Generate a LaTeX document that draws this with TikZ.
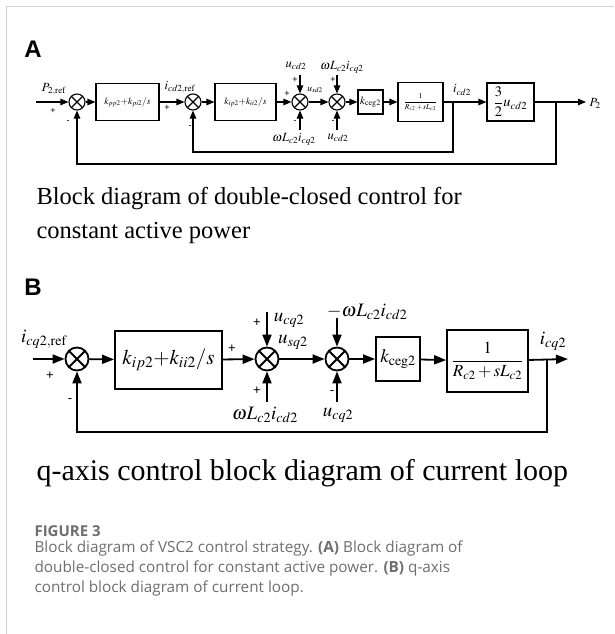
\documentclass[tikz,border=0pt]{standalone}
\usepackage{mathptmx}
\usepackage{fontspec}
\setmainfont{Liberation Serif}
\newfontfamily\panelfont{Liberation Sans}
\newfontfamily\capfont{Open Sans}
\usetikzlibrary{arrows.meta,positioning,calc}
\definecolor{framegray}{HTML}{D0D0D0}
\definecolor{capgray}{HTML}{6E6E6E}
\tikzset{
  sumj/.style={circle, draw, inner sep=0pt,
    path picture={\draw (path picture bounding box.south west) -- (path picture bounding box.north east)
                        (path picture bounding box.north west) -- (path picture bounding box.south east);}},
  blk/.style={rectangle, draw, inner sep=0pt, align=center},
  sigA/.style={-{Triangle[length=8pt,width=6.5pt]}},
  sigB/.style={-{Triangle[length=12pt,width=9pt]}},
  sgn/.style={font=\panelfont\fontsize{9}{9}\selectfont, inner sep=0pt},
  sgnB/.style={font=\panelfont\fontsize{13}{13}\selectfont, inner sep=0pt}
}

\begin{document}
\begin{tikzpicture}[x=1pt, y=-1pt]
\useasboundingbox (0,0) rectangle (614,634);
\draw[framegray, line width=1pt] (6,634) -- (6,7) -- (614,7);

\node[font=\panelfont\bfseries\fontsize{24}{24}\selectfont] (labA) at (33,49) {A};
\node[font=\panelfont\bfseries\fontsize{24}{24}\selectfont] (labB) at (33,287) {B};

\begin{scope}[line width=1.1pt, font=\fontsize{12.5}{13}\selectfont]
\coordinate (inA) at (36,102);
\node[sumj, minimum size=16pt] (sA1) at (77,102) {};
\node[blk, minimum width=63pt, minimum height=37pt, font=\fontsize{9.5}{10}\selectfont]
  (bA1) at (127.5,102) {$k_{pp2}{+}k_{pi2}/s$};
\node[sumj, minimum size=16pt] (sA2) at (193,102) {};
\node[blk, minimum width=61pt, minimum height=37pt, font=\fontsize{9.5}{10}\selectfont]
  (bA2) at (245.5,102) {$k_{ip2}{+}k_{ii2}/s$};
\node[sumj, minimum size=16pt] (sA3) at (300,102) {};
\node[sumj, minimum size=16pt] (sA4) at (337,102) {};
\node[blk, minimum width=25pt, minimum height=24pt, font=\fontsize{11}{12}\selectfont]
  (bA3) at (370.5,102) {$k_{\mathrm{ceg}2}$};
\node[blk, minimum width=45pt, minimum height=39pt, font=\fontsize{7.5}{8}\selectfont]
  (bA4) at (420.5,102) {$\displaystyle\frac{1}{R_{c2}+sL_{c2}}$};
\node[blk, minimum width=47pt, minimum height=38pt, font=\fontsize{14.5}{15}\selectfont]
  (bA5) at (510.5,102) {$\displaystyle\frac{3}{2}u_{cd2}$};
\coordinate (outA) at (586,102);
\coordinate (brA1) at (453,102);
\coordinate (brA2) at (556,102);
\coordinate (tA3) at (300,75);
\coordinate (tA4) at (337,75);
\coordinate (dA3) at (300,130);
\coordinate (dA4) at (337,130);

\draw[sigA] (inA) -- (sA1);
\draw[sigA] (sA1) -- (bA1);
\draw[sigA] (bA1) -- (sA2);
\draw[sigA] (sA2) -- (bA2);
\draw[sigA] (bA2) -- (sA3);
\draw[sigA] (sA3) -- (sA4);
\draw[sigA] (sA4) -- (bA3);
\draw[sigA] (bA3) -- (bA4);
\draw[sigA] (bA4) -- (bA5);
\draw[sigA] (bA5) -- (outA);
\draw[sigA] (tA3) -- (sA3);
\draw[sigA] (tA4) -- (sA4);
\draw[sigA] (dA3) -- (sA3);
\draw[sigA] (dA4) -- (sA4);
\draw[sigA] (brA1) -- ++(0,50) -| (sA2);
\draw[sigA] (brA2) -- ++(0,62) -| (sA1);

\node (lPref) at (54,89) {$P_{2,\mathrm{ref}}$};
\node[sgn] (pA1) at (53,111) {+};
\node[sgn] (mA1) at (68,122) {-};
\node (lIref) at (180,87) {$i_{cd2,\mathrm{ref}}$};
\node[sgn] (pA2) at (167,108) {+};
\node[sgn] (mA2) at (190,127) {-};
\node (lUcd) at (296,66) {$u_{cd2}$};
\node[sgn] (pA3t) at (295,80) {+};
\node[sgn] (pA3l) at (287,94) {+};
\node[font=\fontsize{9.5}{10}\selectfont] (lUsd) at (315,90) {$u_{sd2}$};
\node[sgn] (mA3) at (295,122) {-};
\node (lWiq) at (294,139) {$\omega L_{c2}i_{cq2}$};
\node (lWiq2) at (342,67) {$\omega L_{c2}i_{cq2}$};
\node[sgn] (pA4) at (333,80) {+};
\node[sgn] (mA4) at (333,122) {-};
\node (lUcd2) at (338,138) {$u_{cd2}$};
\node (lIcd) at (462,90) {$i_{cd2}$};
\node[anchor=west, inner sep=1pt] (lP2) at (588,103) {${P}_2$};
\end{scope}

\node[anchor=west, align=left, font=\fontsize{24.5}{34}\selectfont] (capA) at (33,215)
  {Block diagram of double-closed control for\\constant active power};

\begin{scope}[line width=1.8pt, font=\fontsize{19}{20}\selectfont]
\coordinate (inB) at (33,359);
\node[sumj, minimum size=23pt] (sB1) at (77,359) {};
\node[blk, minimum width=107pt, minimum height=58pt, font=\fontsize{21}{22}\selectfont]
  (bB1) at (168.5,360) {$k_{ip2}{+}k_{ii2}/s$};
\node[sumj, minimum size=23pt] (sB2) at (267,359) {};
\node[sumj, minimum size=23pt] (sB3) at (337,359) {};
\node[blk, minimum width=44pt, minimum height=44pt, font=\fontsize{19}{20}\selectfont]
  (bB2) at (398,359) {$k_{\mathrm{ceg}2}$};
\node[blk, minimum width=81pt, minimum height=62pt, font=\fontsize{17}{18}\selectfont]
  (bB3) at (487.5,361) {$\displaystyle\frac{1}{R_{c2}+sL_{c2}}$};
\coordinate (outB) at (568,359);
\coordinate (brB) at (547,359);
\coordinate (tB2) at (267,312);
\coordinate (tB3) at (337,318);
\coordinate (dB2) at (267,402);
\coordinate (dB3) at (337,402);

\draw[sigB] (inB) -- (sB1);
\draw[sigB] (sB1) -- (bB1);
\draw[sigB] (bB1) -- (sB2);
\draw[sigB] (sB2) -- (sB3);
\draw[sigB] (sB3) -- (bB2);
\draw[sigB] (bB2) -- (bB3);
\draw[sigB] (bB3) -- (outB);
\draw[sigB] (tB2) -- (sB2);
\draw[sigB] (tB3) -- (sB3);
\draw[sigB] (dB2) -- (sB2);
\draw[sigB] (dB3) -- (sB3);
\draw[sigB] (brB) -- ++(0,73) -| (sB1);

\node (lIqref) at (44,339) {$i_{cq2,\mathrm{ref}}$};
\node[sgnB] (pB1) at (50,376) {+};
\node[sgnB] (mB1) at (70,401) {-};
\node[sgnB] (pB2l) at (232,349) {+};
\node[sgnB] (pB2t) at (257,323) {+};
\node (lUcq) at (289,320) {$u_{cq2}$};
\node (lUsq) at (293,342) {$u_{sq2}$};
\node[sgnB] (pB2d) at (257,391) {+};
\node[inner sep=1pt] (lWid) at (265,415) {$\omega {L}_{c2}i_{cd2}$};
\node[anchor=west, inner sep=1pt] (lWid2) at (325,312) {$-\omega {L}_{c2}i_{cd2}$};
\node[sgnB] (mB3) at (332,393) {-};
\node (lUcq2) at (338,415) {$u_{cq2}$};
\node (lIcq) at (553,341) {$i_{cq2}$};
\end{scope}

\node[anchor=west, font=\fontsize{30}{34}\selectfont] (capB) at (33,473)
  {q-axis control block diagram of current loop};

\node[anchor=west, text=capgray, font=\capfont\bfseries\fontsize{15}{20}\selectfont] (figno) at (31,531) {FIGURE 3};
\node[anchor=north west, align=left, text=capgray, font=\capfont\fontsize{15.3}{20.3}\selectfont] (figcap) at (31,537)
  {Block diagram of VSC2 control strategy. \textbf{(A)} Block diagram of\\
   double-closed control for constant active power. \textbf{(B)} q-axis\\
   control block diagram of current loop.};
\end{tikzpicture}
\end{document}
